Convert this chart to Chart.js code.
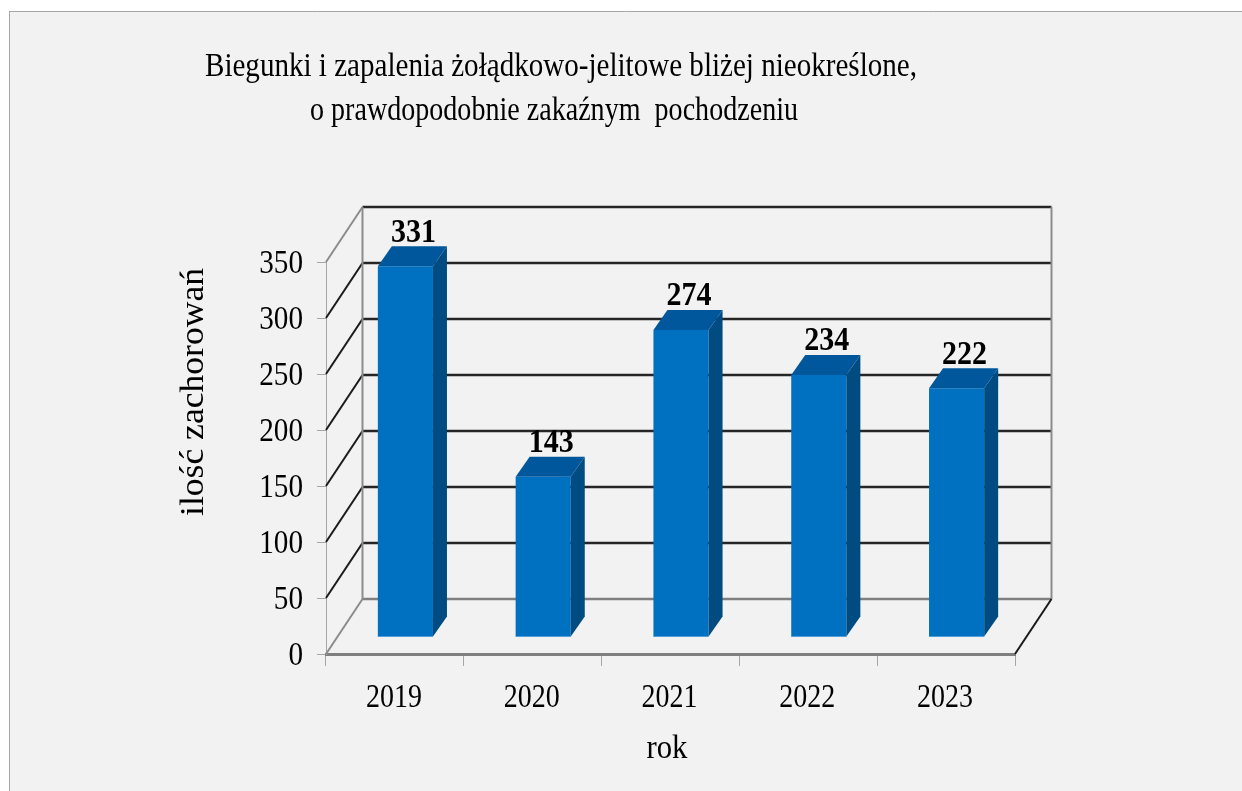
<!DOCTYPE html>
<html>
<head>
<meta charset="utf-8">
<title>Biegunki</title>
<script src="https://cdn.jsdelivr.net/npm/chart.js@4"></script>
<style>
html, body { margin: 0; padding: 0; background: #ffffff; }
canvas { display: block; filter: blur(0.6px); }
</style>
</head>
<body>
<canvas id="casesChart" width="1242" height="791"></canvas>
<script>
const titleLines = ['Biegunki i zapalenia żołądkowo-jelitowe bliżej nieokreślone,', 'o prawdopodobnie zakaźnym  pochodzeniu'];
const years = ['2019', '2020', '2021', '2022', '2023'];
const cases = [331, 143, 274, 234, 222];
const yTicks = [0, 50, 100, 150, 200, 250, 300, 350];
const yTitle = 'ilość zachorowań';
const xTitle = 'rok';

const FONT = '"Liberation Serif", "Times New Roman", serif';

// depth of the fake 3d box and of the bars inside it
const WALL_DX = 36.5, WALL_DY = -55;
const BAR_DX = 10.5, BAR_DY = -17;
const SIDE_DX = 14, SIDE_DY = -20;

// the reference text is squeezed horizontally, so fit it to a given width
function fitText(ctx, text, x, y, width, font, angle)
{
    ctx.save();
    ctx.font = font;
    ctx.fillStyle = '#000000';
    ctx.textAlign = 'center';
    ctx.textBaseline = 'middle';
    ctx.translate(x, y);
    if (angle) ctx.rotate(angle);
    ctx.scale(width / ctx.measureText(text).width, 1);
    ctx.fillText(text, 0, 2.5);
    ctx.restore();
}

function line(ctx, x1, y1, x2, y2, color, lineWidth)
{
    ctx.strokeStyle = color;
    ctx.lineWidth = lineWidth;
    ctx.beginPath();
    ctx.moveTo(x1, y1);
    ctx.lineTo(x2, y2);
    ctx.stroke();
}

function face(ctx, points, color)
{
    ctx.fillStyle = color;
    ctx.beginPath();
    ctx.moveTo(points[0][0], points[0][1]);
    for (let i = 1; i < points.length; i++) ctx.lineTo(points[i][0], points[i][1]);
    ctx.closePath();
    ctx.fill();
}

// panel behind the chart, back wall, left wall and floor
const boxPlugin = {
    id: 'box',
    beforeDraw: function(chart) {
        const ctx = chart.ctx;
        ctx.save();
        ctx.fillStyle = '#f2f2f2';
        ctx.fillRect(9, 11, chart.width - 9, chart.height - 11);
        line(ctx, 9, 11.5, chart.width, 11.5, '#a6a6a6', 1);
        line(ctx, 9.5, 11, 9.5, chart.height, '#a6a6a6', 1);
        ctx.restore();
    },
    beforeDatasetsDraw: function(chart) {
        const ctx = chart.ctx;
        const area = chart.chartArea;
        const scale = chart.scales.y;
        ctx.save();
        yTicks.forEach(function(v) {
            const y = scale.getPixelForValue(v);
            const edge = v === 0 || v === 350;
            line(ctx, area.left, y, area.left + WALL_DX, y + WALL_DY, edge ? '#8c8c8c' : '#1a1a1a', 2);
            line(ctx, area.left + WALL_DX, y + WALL_DY, area.right + WALL_DX, y + WALL_DY, v === 0 ? '#808080' : '#262626', 2.5);
        });
        const top = scale.getPixelForValue(350) + WALL_DY;
        const bottom = scale.getPixelForValue(0) + WALL_DY;
        line(ctx, area.left + WALL_DX, top, area.left + WALL_DX, bottom, '#8c8c8c', 2);
        line(ctx, area.right + WALL_DX, top, area.right + WALL_DX, bottom, '#8c8c8c', 2);
        line(ctx, area.right, area.bottom, area.right + WALL_DX, bottom, '#1a1a1a', 2);
        ctx.restore();
    }
};

// bars stand in the middle of the floor, so everything is shifted by the bar depth
const barPlugin = {
    id: 'bars3d',
    beforeDatasetsDraw: function(chart) {
        chart.ctx.save();
        chart.ctx.translate(BAR_DX, BAR_DY);
    },
    afterDatasetsDraw: function(chart) {
        const ctx = chart.ctx;
        chart.getDatasetMeta(0).data.forEach(function(bar) {
            const p = bar.getProps(['x', 'y', 'base', 'width'], true);
            const l = p.x - p.width / 2, r = p.x + p.width / 2;
            face(ctx, [[r, p.y], [r + SIDE_DX, p.y + SIDE_DY], [r + SIDE_DX, p.base + SIDE_DY], [r, p.base]], '#004b82');
            face(ctx, [[l, p.y], [l + SIDE_DX, p.y + SIDE_DY], [r + SIDE_DX, p.y + SIDE_DY], [r, p.y]], '#00579b');
            line(ctx, l, p.base, r, p.base, '#4f9fdc', 1);
        });
        ctx.restore();
    }
};

// all texts are drawn here, at the positions given by the scales
const textPlugin = {
    id: 'texts',
    afterDraw: function(chart) {
        const ctx = chart.ctx;
        const x = chart.scales.x;
        const y = chart.scales.y;

        fitText(ctx, titleLines[0], 561, 65, 712, '34px ' + FONT);
        fitText(ctx, titleLines[1], 554, 109, 488, '34px ' + FONT);

        yTicks.forEach(function(v) {
            const label = String(v);
            fitText(ctx, label, 303 - label.length * 7.3, y.getPixelForValue(v), label.length * 14.6, '34px ' + FONT);
        });
        years.forEach(function(year, i) {
            fitText(ctx, year, x.getPixelForValue(i) - 1, 696, 56, '34px ' + FONT);
        });
        cases.forEach(function(v, i) {
            const label = String(v);
            fitText(ctx, label, x.getPixelForValue(i) + BAR_DX + 8, y.getPixelForValue(v) + BAR_DY - 36, 45, 'bold 34px ' + FONT);
        });

        fitText(ctx, yTitle, 192, 392, 248, '34px ' + FONT, -Math.PI / 2);
        fitText(ctx, xTitle, 667, 747, 41, '34px ' + FONT);
    }
};

var chart = new Chart(document.getElementById('casesChart').getContext('2d'), {
    type: 'bar',
    data: {
        labels: years,
        datasets: [{
            data: cases,
            backgroundColor: '#0070c0',
            barPercentage: 0.4,
            categoryPercentage: 1,
            clip: false
        }]
    },
    options: {
        responsive: false,
        animation: false,
        layout: { padding: { left: 317, top: 262, right: 227, bottom: 125 } },
        plugins: {
            legend: { display: false },
            title: { display: false },
            tooltip: { enabled: false }
        },
        scales: {
            x: {
                ticks: { display: false },
                grid: { drawOnChartArea: false, tickLength: 12, color: '#a6a6a6' },
                border: { color: '#7f7f7f', width: 3 }
            },
            y: {
                min: 0,
                max: 350,
                ticks: { display: false, stepSize: 50 },
                grid: { drawOnChartArea: false, tickLength: 9, color: '#a6a6a6' },
                border: { color: '#a6a6a6', width: 1 }
            }
        }
    },
    plugins: [boxPlugin, barPlugin, textPlugin]
});
</script>
</body>
</html>
